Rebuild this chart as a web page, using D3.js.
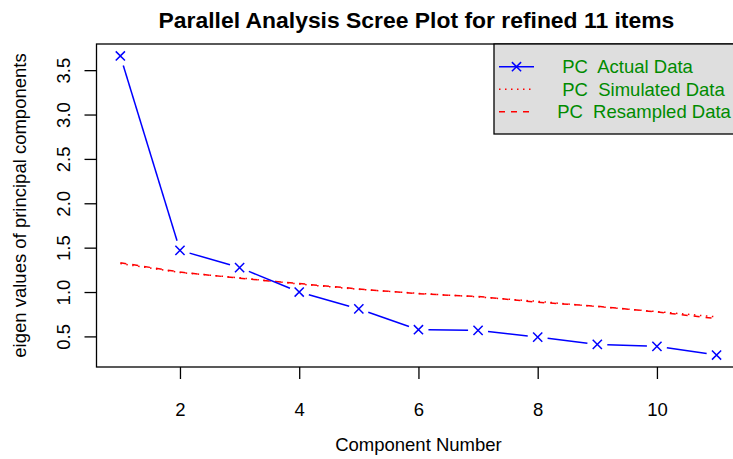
<!DOCTYPE html>
<html>
<head>
<meta charset="utf-8">
<script src="https://cdn.jsdelivr.net/npm/d3@7"></script>
<style>
  html, body { margin: 0; padding: 0; background: #fff; }
  svg { display: block; font-family: "Liberation Sans", Arial, Helvetica, sans-serif; }
</style>
</head>
<body>
<svg id="chart" width="733" height="459"></svg>
<script>
// ---- data ----
const components = [1, 2, 3, 4, 5, 6, 7, 8, 9, 10, 11];
const actualData = [3.66, 1.47, 1.275, 1.0, 0.81, 0.575, 0.568, 0.492, 0.41, 0.387, 0.29];
const simulatedData = [1.32, 1.22, 1.16, 1.09, 1.03, 0.985, 0.945, 0.895, 0.835, 0.78, 0.72];
const resampledData = [1.33, 1.225, 1.155, 1.095, 1.035, 0.98, 0.95, 0.885, 0.84, 0.775, 0.70];
const xTicks = [2, 4, 6, 8, 10];
const yTicks = [0.5, 1.0, 1.5, 2.0, 2.5, 3.0, 3.5];
const legendLabels = ["  PC  Actual Data", "  PC  Simulated Data", " PC  Resampled Data"];
const titleText = "Parallel Analysis Scree Plot for refined 11 items";
const xLabel = "Component Number";
const yLabel = "eigen values of principal components";

(function () {
// ---- layout ----
const svg = d3.select("#chart");
svg.append("rect").attr("width", 733).attr("height", 459).attr("fill", "#fff");
const pLeft = 96.5, pRight = 740.4, pTop = 44, pBottom = 367;
const fs = 18.5;

function rExtend(lo, hi) { const d = (hi - lo) * 0.04; return [lo - d, hi + d]; }
const xDom = rExtend(d3.min(components), d3.max(components));
const allY = actualData.concat(simulatedData, resampledData);
const yDom = rExtend(d3.min(allY), d3.max(allY));

const x = d3.scaleLinear().domain(xDom).range([pLeft, pRight]);
const y = d3.scaleLinear().domain(yDom).range([pBottom, pTop]);

// ---- title ----
svg.append("text")
  .attr("x", (pLeft + pRight) / 2 - 2).attr("y", 28)
  .attr("text-anchor", "middle")
  .attr("font-weight", "bold").attr("font-size", 22.9)
  .attr("fill", "#000")
  .text(titleText);

// ---- axes ----
const xAxis = d3.axisBottom(x).tickValues(xTicks).tickSize(12).tickFormat(d3.format("d"));
const gx = svg.append("g").attr("transform", `translate(0,${pBottom})`).call(xAxis);
gx.select(".domain").remove();
gx.selectAll(".tick line").attr("stroke", "#000").attr("stroke-width", 1.3);
gx.selectAll(".tick text").attr("font-size", fs).attr("font-family", "Liberation Sans, Arial, sans-serif")
  .attr("fill", "#000").attr("y", 49).attr("dy", 0);

const yAxis = d3.axisLeft(y).tickValues(yTicks).tickSize(12).tickFormat(d3.format(".1f"));
const gy = svg.append("g").attr("transform", `translate(${pLeft},0)`).call(yAxis);
gy.select(".domain").remove();
gy.selectAll(".tick line").attr("stroke", "#000").attr("stroke-width", 1.3);
gy.selectAll(".tick text").remove();
gy.selectAll(".tick").append("text")
  .attr("transform", "translate(-33,0) rotate(-90)")
  .attr("text-anchor", "middle").attr("dy", "0.36em")
  .attr("font-size", fs).attr("fill", "#000")
  .attr("font-family", "Liberation Sans, Arial, sans-serif")
  .text(d => d3.format(".1f")(d));

// axis titles
svg.append("text")
  .attr("x", (pLeft + pRight) / 2).attr("y", 451)
  .attr("text-anchor", "middle").attr("font-size", fs).attr("fill", "#000")
  .text(xLabel);
svg.append("text")
  .attr("transform", `translate(26,${(pTop + pBottom) / 2}) rotate(-90)`)
  .attr("text-anchor", "middle").attr("font-size", fs).attr("fill", "#000")
  .text(yLabel);

// ---- lines ----
const simLine = d3.line().x((d, i) => x(components[i])).y(d => y(d));
svg.append("path").datum(simulatedData).attr("d", simLine)
  .attr("fill", "none").attr("stroke", "#ff0000").attr("stroke-width", 1.5)
  .attr("stroke-dasharray", "1.5,4.5");
svg.append("path").datum(resampledData).attr("d", simLine)
  .attr("fill", "none").attr("stroke", "#ff0000").attr("stroke-width", 1.5)
  .attr("stroke-dasharray", "6,6");

// actual data: type "b" (segments with gaps around points)
const gap = 10;
const pts = actualData.map((v, i) => [x(components[i]), y(v)]);
const segs = [];
for (let i = 0; i < pts.length - 1; i++) {
  const [x0, y0] = pts[i], [x1, y1] = pts[i + 1];
  const len = Math.hypot(x1 - x0, y1 - y0);
  if (len > 2 * gap) {
    const ux = (x1 - x0) / len, uy = (y1 - y0) / len;
    segs.push([x0 + ux * gap, y0 + uy * gap, x1 - ux * gap, y1 - uy * gap]);
  }
}
svg.append("g").selectAll("line").data(segs).join("line")
  .attr("x1", d => d[0]).attr("y1", d => d[1]).attr("x2", d => d[2]).attr("y2", d => d[3])
  .attr("stroke", "#0000ff").attr("stroke-width", 1.5);

const ms = 4.6;
svg.append("g").selectAll("path").data(actualData).join("path")
  .attr("d", (d, i) => {
    const cx = x(components[i]), cy = y(d);
    return `M${cx-ms},${cy-ms}L${cx+ms},${cy+ms}M${cx-ms},${cy+ms}L${cx+ms},${cy-ms}`;
  })
  .attr("stroke", "#0000ff").attr("stroke-width", 1.5).attr("fill", "none");

// ---- plot box ----
svg.append("rect")
  .attr("x", pLeft).attr("y", pTop).attr("width", pRight - pLeft).attr("height", pBottom - pTop)
  .attr("fill", "none").attr("stroke", "#000").attr("stroke-width", 1.3);

// ---- legend ----
const lg = svg.append("g");
const lgLeft = 494, lgTop = pTop, lgBottom = 134;
lg.append("rect").attr("x", lgLeft).attr("y", lgTop).attr("width", 260).attr("height", lgBottom - lgTop)
  .attr("fill", "#dedede").attr("stroke", "#000").attr("stroke-width", 1.3);
const rowY = [66.7, 89.2, 111.7];
const styles = [
  { stroke: "#0000ff", dash: null, pch: true },
  { stroke: "#ff0000", dash: "1.5,4.5", pch: false },
  { stroke: "#ff0000", dash: "6,6", pch: false }
];
legendLabels.forEach((lab, i) => {
  const st = styles[i];
  lg.append("line").attr("x1", 499).attr("x2", 534).attr("y1", rowY[i]).attr("y2", rowY[i])
    .attr("stroke", st.stroke).attr("stroke-width", 1.5)
    .attr("stroke-dasharray", st.dash);
  if (st.pch) {
    const cx = 516.5, cy = rowY[i];
    lg.append("path").attr("d", `M${cx-ms},${cy-ms}L${cx+ms},${cy+ms}M${cx-ms},${cy+ms}L${cx+ms},${cy-ms}`)
      .attr("stroke", st.stroke).attr("stroke-width", 1.5);
  }
  lg.append("text").attr("x", 552).attr("y", rowY[i]).attr("dy", "0.36em")
    .attr("font-size", fs).attr("fill", "#008B00")
    .style("white-space", "pre")
    .text(lab);
});
})();
</script>
</body>
</html>
